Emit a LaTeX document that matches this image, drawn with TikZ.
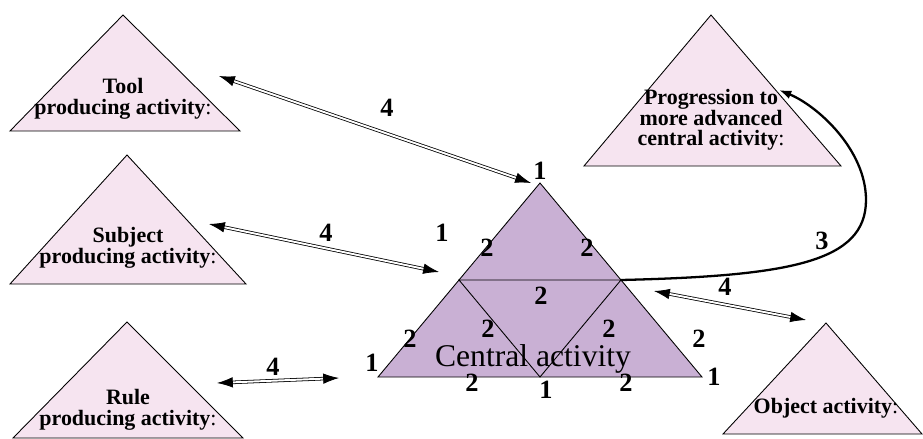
\documentclass[tikz,border=0pt]{standalone}
\usepackage{fontspec}
\setmainfont{Liberation Serif}
\usetikzlibrary{arrows.meta}
\definecolor{outerPink}{RGB}{246,228,240}
\definecolor{centralPurple}{RGB}{201,176,212}

\tikzset{
  outer/.style={line width=0.5pt, fill=outerPink},
  link/.style={double, double distance=1.1pt, line width=0.45pt,
    {Latex[length=9pt,width=6pt]}-{Latex[length=9pt,width=6pt]}},
  num/.style={font=\bfseries\fontsize{15}{15}\selectfont, inner sep=0pt},
  actext/.style={font=\bfseries\fontsize{12.5}{11.7}\selectfont, align=center, inner sep=0pt},
}

\begin{document}
\begin{tikzpicture}[x=0.02cm, y=-0.02cm]
  \useasboundingbox (0,0) rectangle (923,439);
  % outer activities
  \draw[outer] (123,15) -- (240,131) -- (10,131) -- cycle;
  \draw[outer] (127,155) -- (246,284) -- (10,284) -- cycle;
  \draw[outer] (127,322) -- (243,438) -- (13,438) -- cycle;
  \draw[outer] (711,15) -- (841,166) -- (584,166) -- cycle;
  \draw[outer] (826,323) -- (922,434) -- (723,434) -- cycle;
  \node[actext] (tool) at (123,99) {Tool\\producing activity\textmd{:}};
  \node[actext] (subject) at (128,248) {Subject\\producing activity\textmd{:}};
  \node[actext] (rule) at (128,410) {Rule\\producing activity\textmd{:}};
  \node[actext] (progress) at (711,120) {Progression to\\more advanced\\central activity\textmd{:}};
  \node[actext] (object) at (826,408) {Object activity\textmd{:}};

  % central activity
  \coordinate (ca) at (540,183);
  \coordinate (cl) at (378,377);
  \coordinate (cr) at (702,377);
  \coordinate (cml) at (459,280);
  \coordinate (cmr) at (621,280);
  \coordinate (cmb) at (540,377);
  \draw[line width=0.5pt, fill=centralPurple] (ca) -- (cr) -- (cl) -- cycle;
  \draw[line width=0.5pt] (cml) -- (cmr) -- (cmb) -- cycle;
  \node[font=\fontsize{18}{18}\selectfont, inner sep=0pt] (central) at (533,359) {Central activity};

  % numbers
  \foreach \p/\t [count=\i] in {(540,171)/1, (442,233)/1, (487,248)/2, (587,248)/2,
      (541,296)/2, (488,329)/2, (609,329)/2, (410,339)/2, (699,339)/2,
      (372,363)/1, (714,377)/1, (472,383)/2, (546,390)/1, (626,383)/2}
    \node[num] (n\i) at \p {\t};

  % links
  \coordinate (toolA) at (219,76);
  \coordinate (toolB) at (531,183);
  \coordinate (subjA) at (209,224);
  \coordinate (subjB) at (439,272);
  \coordinate (ruleA) at (217,383);
  \coordinate (ruleB) at (339,378);
  \coordinate (objA) at (654,291);
  \coordinate (objB) at (806,320);
  \draw[link] (toolA) -- (toolB);
  \draw[link] (subjA) -- (subjB);
  \draw[link] (ruleA) -- (ruleB);
  \draw[link] (objA) -- (objB);
  \node[num] (l1) at (387,108) {4};
  \node[num] (l2) at (326,233) {4};
  \node[num] (l3) at (273,367) {4};
  \node[num] (l4) at (725,287) {4};

  % progression
  \coordinate (progIn) at (779,90);
  \draw[line width=1.3pt, -{Latex[length=7pt,width=5pt]}] (cmr)
    .. controls (790,276) and (866,262) .. (866,200)
    .. controls (866,150) and (818,106) .. (progIn);
  \node[num] (l5) at (822,241) {3};
\end{tikzpicture}
\end{document}
